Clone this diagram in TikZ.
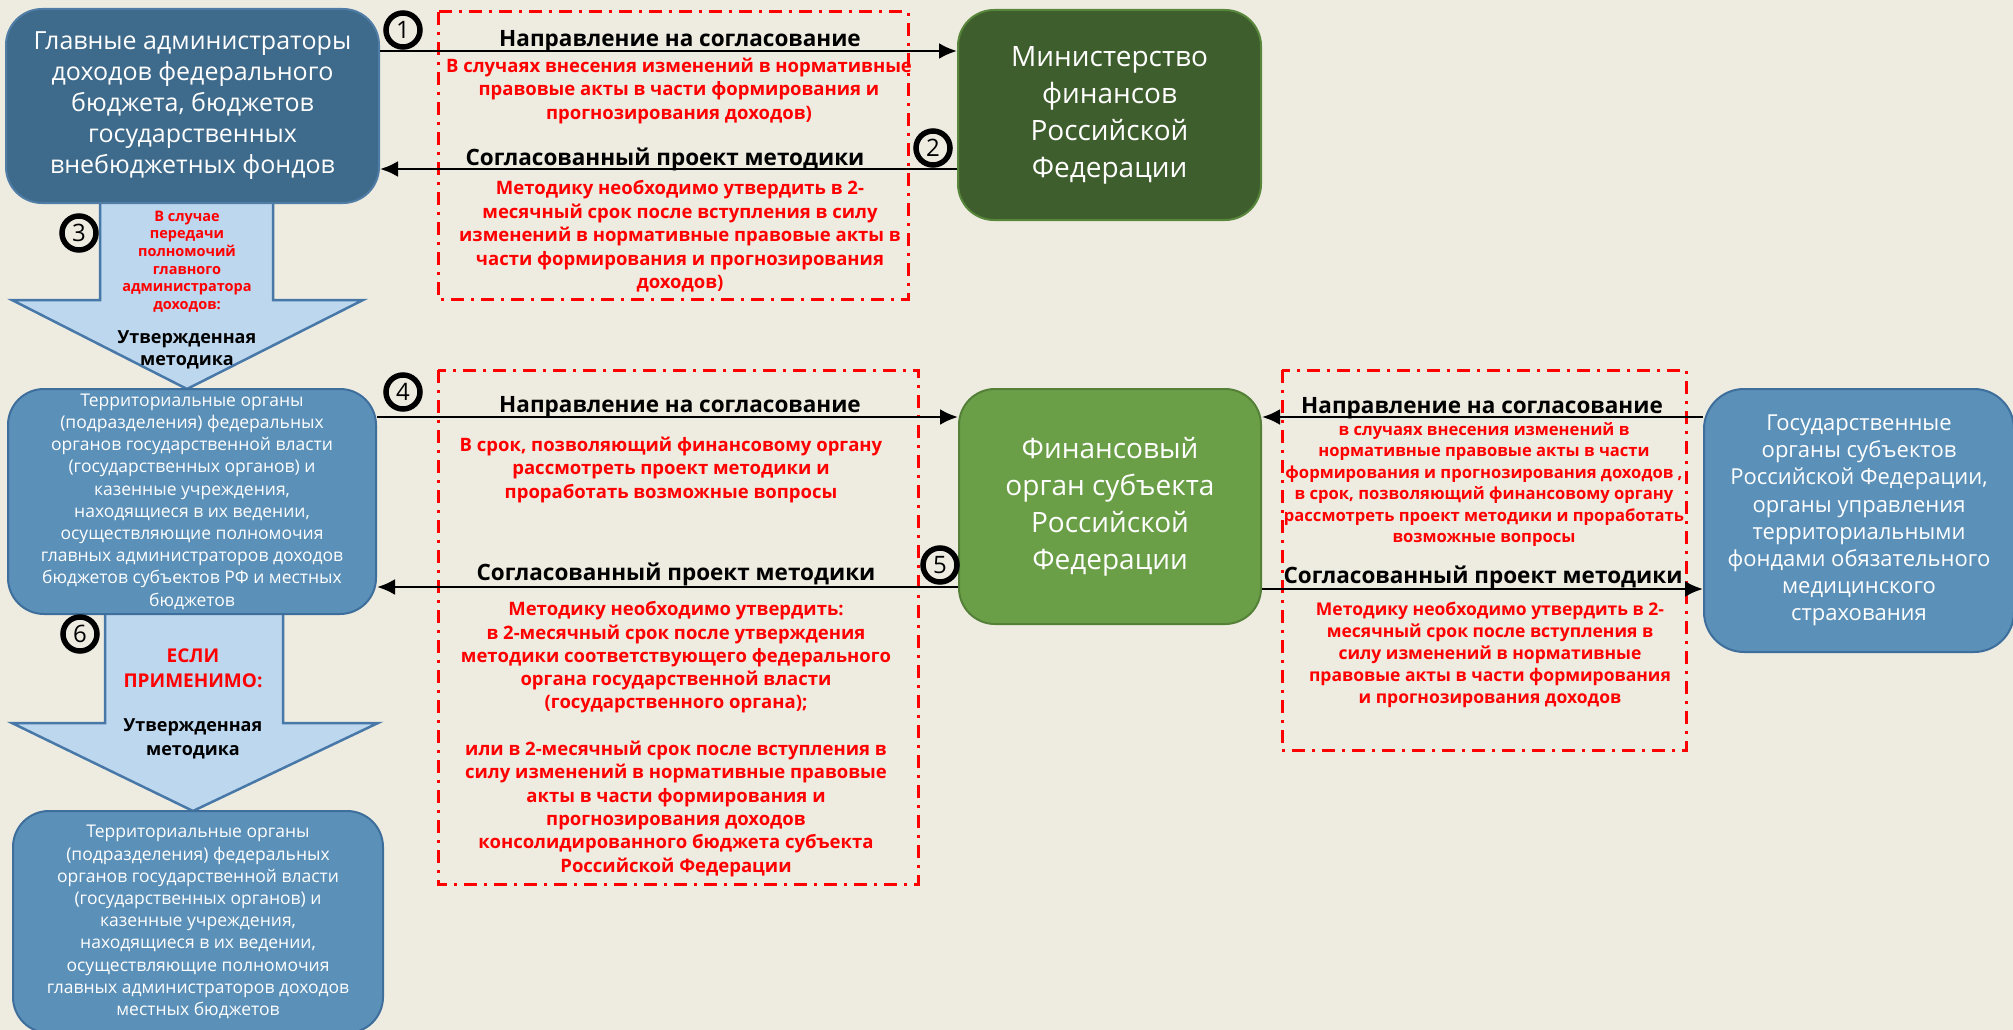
\documentclass[tikz,border=0pt]{standalone}
\usepackage{fontspec}
\setmainfont{Open Sans}
\usetikzlibrary{arrows.meta}

\definecolor{bgc}{HTML}{EEECE1}
\definecolor{admblue}{RGB}{62,106,139}
\definecolor{admline}{RGB}{80,125,165}
\definecolor{orgblue}{RGB}{91,144,185}
\definecolor{orgline}{RGB}{62,110,155}
\definecolor{mfgreen}{RGB}{63,94,45}
\definecolor{mfline}{RGB}{88,135,60}
\definecolor{fogreen}{RGB}{106,159,71}
\definecolor{foline}{RGB}{84,128,56}
\definecolor{arrfill}{RGB}{189,215,238}
\definecolor{arrline}{RGB}{72,120,168}

\begin{document}
\begin{tikzpicture}[x=1pt, y=-1pt]
            \tikzstyle{box} = [draw, rounded corners=36pt, line width=2pt, text=white, align=center, inner sep=0pt]
            \tikzstyle{lbl} = [anchor=base, inner sep=0pt, font=\fontsize{22.5}{28}\selectfont\bfseries]
            \tikzstyle{note} = [text=red, align=center, inner sep=0pt, font=\fontsize{18.5}{23.5}\selectfont\bfseries]
            \tikzstyle{num} = [circle, draw, line width=5.5pt, minimum size=34pt, inner sep=0pt, font=\fontsize{24}{24}\selectfont]
            \tikzstyle{flow} = [line width=2.7pt, -{Latex[length=18pt, width=16pt]}]
            \tikzstyle{dashbox} = [red, line width=3pt, dash pattern=on 13pt off 7pt on 3pt off 7pt]
            \tikzstyle{barrow} = [fill=arrfill, draw=arrline, line width=2.5pt, line join=miter]
            \useasboundingbox (0, 0) rectangle (2013, 1030);
            \fill[bgc] (0, 0) rectangle (2013, 1030);
            \draw[barrow] (100, 190) -- (100, 300) -- (12, 300) -- (187, 389) -- (363, 300) -- (273, 300) -- (273, 190) -- cycle;
            \draw[barrow] (105, 600) -- (105, 723) -- (12, 723) -- (193, 811) -- (378, 723) -- (283, 723) -- (283, 600) -- cycle;
            \node[box, fill=admblue, draw=admline, minimum width=373pt, minimum height=194pt, font=\fontsize{25}{31}\selectfont] (adm) at (192.5, 106) {Главные администраторы\\доходов  федерального\\бюджета, бюджетов\\государственных\\внебюджетных фондов};
            \node[box, fill=mfgreen, draw=mfline, minimum width=303pt, minimum height=210pt, font=\fontsize{28}{37}\selectfont] (mf) at (1109.5, 115) {Министерство\\финансов\\Российской\\Федерации};
            \node[box, fill=orgblue, draw=orgline, minimum width=368pt, minimum height=225pt, font=\fontsize{17.5}{22.2}\selectfont] (terr) at (192, 501.5) {Территориальные органы\\(подразделения) федеральных\\органов государственной власти\\(государственных органов) и\\казенные учреждения,\\находящиеся в их ведении,\\осуществляющие полномочия\\главных администраторов доходов\\бюджетов субъектов РФ и местных\\бюджетов};
            \node[box, fill=orgblue, draw=orgline, minimum width=370pt, minimum height=222pt, font=\fontsize{17.5}{22.2}\selectfont] (loc) at (198, 922) {Территориальные органы\\(подразделения) федеральных\\органов государственной власти\\(государственных органов) и\\казенные учреждения,\\находящиеся в их ведении,\\осуществляющие полномочия\\главных администраторов доходов\\местных бюджетов};
            \node[box, fill=fogreen, draw=foline, minimum width=302pt, minimum height=235pt, font=\fontsize{28}{37}\selectfont] (fo) at (1110, 506.5) {Финансовый\\орган субъекта\\Российской\\Федерации};
            \node[box, fill=orgblue, draw=orgline, minimum width=310pt, minimum height=263pt, rounded corners=40pt, font=\fontsize{22}{27.2}\selectfont] (subj) at (1859, 520.5) {Государственные\\органы субъектов\\Российской Федерации,\\органы управления\\территориальными\\фондами обязательного\\медицинского\\страхования};
            \draw[dashbox] (438, 12) rectangle (908, 299);
            \draw[dashbox] (438, 370) rectangle (918, 884);
            \draw[dashbox] (1282, 370) rectangle (1686, 750);
            \coordinate (r1) at (0, 51);
            \coordinate (r2) at (0, 169);
            \coordinate (r4) at (0, 417);
            \coordinate (r5) at (0, 587);
            \coordinate (r7) at (0, 589);
            \draw[flow] (adm.east |- r1) -- (mf.west |- r1);
            \draw[flow] (mf.west |- r2) -- (adm.east |- r2);
            \draw[flow] (terr.east |- r4) -- (fo.west |- r4);
            \draw[flow] (fo.west |- r5) -- (terr.east |- r5);
            \draw[flow] (subj.west |- r4) -- (fo.east |- r4);
            \draw[flow] (fo.east |- r7) -- (subj.west |- r7);
            \node[num] (n1) at (403, 30) {1};
            \node[num] (n2) at (933, 148) {2};
            \node[num] (n3) at (79, 233) {3};
            \node[num] (n4) at (403, 392) {4};
            \node[num] (n5) at (940, 565) {5};
            \node[num] (n6) at (80, 634) {6};
            \node[lbl] (l1) at (680, 47) {Направление на согласование};
            \node[lbl] (l2) at (665, 165) {Согласованный проект методики};
            \node[lbl] (l4) at (680, 412) {Направление на согласование};
            \node[lbl] (l5) at (676, 580) {Согласованный проект методики};
            \node[lbl] (l6) at (1482, 413) {Направление на согласование};
            \node[lbl] (l7) at (1483, 583) {Согласованный проект методики};
            \node[note] (t1) at (679, 91) {В случаях внесения изменений в нормативные\\правовые акты в части формирования и\\прогнозирования доходов)};
            \node[note] (t2) at (680, 236.5) {Методику необходимо утвердить в 2-\\месячный срок после вступления в силу\\изменений в нормативные правовые акты в\\части формирования и прогнозирования\\доходов)};
            \node[note] (t4) at (671, 469.5) {В срок, позволяющий финансовому органу\\рассмотреть проект методики и\\проработать возможные вопросы};
            \node[note, font=\fontsize{18.5}{23.3}\selectfont\bfseries] (t5) at (676, 739) {Методику необходимо утвердить:\\в 2-месячный срок после утверждения\\методики соответствующего федерального\\органа государственной власти\\(государственного органа);\\[23.3pt]или в 2-месячный срок после вступления в\\силу изменений в нормативные правовые\\акты в части формирования и\\прогнозирования доходов\\консолидированного бюджета субъекта\\Российской Федерации};
            \node[note, font=\fontsize{16.6}{21.5}\selectfont\bfseries] (t6) at (1484, 484.5) {в случаях внесения изменений в\\нормативные правовые акты в части\\формирования и прогнозирования доходов ,\\в срок, позволяющий финансовому органу\\рассмотреть проект методики и проработать\\возможные вопросы};
            \node[note, font=\fontsize{17.5}{22}\selectfont\bfseries] (t7) at (1490, 655) {Методику необходимо утвердить в 2-\\месячный срок после вступления в\\силу изменений в нормативные\\правовые акты в части формирования\\и прогнозирования доходов};
            \node[note, font=\fontsize{14.5}{17.7}\selectfont\bfseries] (t3) at (187, 261.5) {В случае\\передачи\\полномочий\\главного\\администратора\\доходов:};
            \node[align=center, inner sep=0pt, font=\fontsize{18}{22}\selectfont\bfseries] (m3) at (187, 350) {Утвержденная\\методика};
            \node[note, font=\fontsize{19}{25}\selectfont\bfseries] (t8) at (193, 668.5) {ЕСЛИ\\ПРИМЕНИМО:};
            \node[align=center, inner sep=0pt, font=\fontsize{18}{24}\selectfont\bfseries] (m6) at (193, 739) {Утвержденная\\методика};
        \end{tikzpicture}
\end{document}
